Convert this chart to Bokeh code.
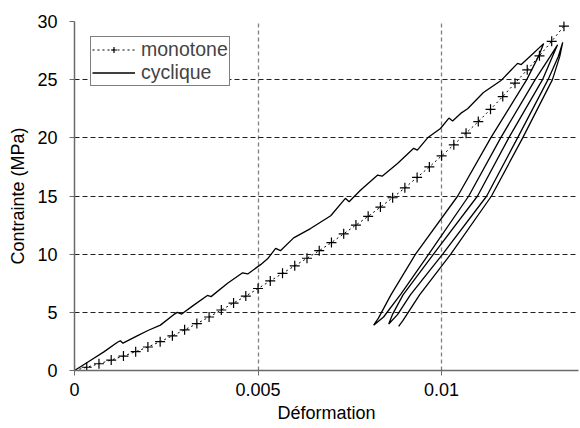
from bokeh.plotting import figure
from bokeh.models import Legend, LegendItem, FixedTicker, Range1d, CustomJSTickFormatter
from bokeh.embed import file_html
from bokeh.resources import INLINE

# ---- data ----
x_ticks = [0, 0.005, 0.01]
y_ticks = [0, 5, 10, 15, 20, 25, 30]

mono_x = [i / 3000 for i in range(41)]
mono_y = [0, 0.28, 0.58, 0.9, 1.24, 1.62, 2.02, 2.48, 2.98, 3.5, 4.03, 4.6, 5.2, 5.8, 6.4,
          7.05, 7.7, 8.35, 9.0, 9.65, 10.3, 11.0, 11.75, 12.5, 13.25, 14.05, 14.85, 15.7,
          16.6, 17.5, 18.45, 19.4, 20.4, 21.4, 22.45, 23.55, 24.7, 25.85, 27.05, 28.3, 29.6]

load_x = [0, 0.0004, 0.0008, 0.00118, 0.00125, 0.00132, 0.00172, 0.0020, 0.00234, 0.0027,
          0.0028, 0.00292, 0.00324, 0.00362, 0.00372, 0.00417, 0.00458, 0.00472, 0.00507,
          0.00526, 0.00548, 0.00561, 0.00597, 0.00643, 0.00698, 0.00738, 0.00748, 0.00779,
          0.00826, 0.00838, 0.0088, 0.00924, 0.00934, 0.00962, 0.00997, 0.0102, 0.0103,
          0.01052, 0.01071, 0.01114, 0.01161, 0.01207, 0.01217, 0.01251, 0.01278]
load_y = [0, 0.8, 1.6, 2.45, 2.55, 2.35, 3.0, 3.44, 3.9, 4.8, 5.0, 4.85, 5.6, 6.45, 6.35,
          7.5, 8.4, 8.3, 9.1, 9.6, 10.5, 10.3, 11.4, 12.2, 13.3, 14.8, 14.5, 15.5, 16.8,
          16.7, 17.8, 19.1, 18.95, 20.0, 20.8, 21.7, 21.45, 22.1, 22.5, 23.9, 24.9, 26.4,
          26.3, 27.3, 28.1]

unload1_x = [0.01278, 0.01264, 0.01232, 0.01134, 0.01044, 0.00929, 0.00862, 0.00828, 0.00815]
unload1_y = [28.1, 27.0, 25.0, 20.0, 15.0, 10.0, 6.5, 4.5, 3.9]
reload1_x = [0.00815, 0.00842, 0.0089, 0.00965, 0.01074, 0.01161, 0.01255, 0.01296, 0.01316]
reload1_y = [3.9, 4.6, 6.6, 10.0, 15.0, 20.0, 25.0, 27.0, 28.0]
unload2_x = [0.01316, 0.01302, 0.01275, 0.01183, 0.01098, 0.00978, 0.00895, 0.00866, 0.00856]
unload2_y = [28.0, 27.0, 25.0, 20.0, 15.0, 10.0, 6.5, 4.8, 4.0]
reload2_x = [0.00856, 0.0088, 0.00915, 0.01003, 0.01123, 0.01207, 0.0129, 0.01318, 0.0133]
reload2_y = [4.0, 4.8, 6.5, 10.0, 15.0, 20.0, 25.0, 27.0, 28.2]
unload3_x = [0.0133, 0.01322, 0.01302, 0.01221, 0.01136, 0.01025, 0.0094, 0.00895, 0.00883]
unload3_y = [28.2, 27.0, 25.0, 20.0, 15.0, 10.0, 6.5, 4.3, 3.8]

cyc_x = load_x + unload1_x + reload1_x + unload2_x + reload2_x + unload3_x
cyc_y = load_y + unload1_y + reload1_y + unload2_y + reload2_y + unload3_y

FONT = "Liberation Sans"

p = figure(width=580, height=426, x_range=Range1d(0, 0.01373), y_range=Range1d(0, 30),
           output_backend="svg", toolbar_location=None,
           min_border_left=74, min_border_top=21, min_border_right=2, min_border_bottom=56)
p.outline_line_color = None
p.background_fill_color = "white"
p.border_fill_color = "white"

# grids
p.xgrid.ticker = FixedTicker(ticks=x_ticks)
p.ygrid.ticker = FixedTicker(ticks=y_ticks)
p.xgrid.grid_line_color = "#808080"
p.xgrid.grid_line_dash = "4 3"
p.xgrid.grid_line_width = 1.3
p.ygrid.grid_line_color = "#202020"
p.ygrid.grid_line_dash = "5 3"
p.ygrid.grid_line_width = 1

# axes
for ax in (p.xaxis[0], p.yaxis[0]):
    ax.axis_line_color = "#6a6a6a"
    ax.axis_line_width = 1.5
    ax.major_tick_line_color = "#6a6a6a"
    ax.major_tick_out = 5
    ax.major_tick_in = 0
    ax.minor_tick_line_color = None
    ax.major_label_text_font = FONT
    ax.major_label_text_font_size = "18px"
    ax.major_label_text_color = "black"
    ax.axis_label_text_font = FONT
    ax.axis_label_text_font_size = "18px"
    ax.axis_label_text_font_style = "normal"
    ax.axis_label_text_color = "black"

p.xaxis.ticker = FixedTicker(ticks=x_ticks)
p.yaxis.ticker = FixedTicker(ticks=y_ticks)
p.xaxis.formatter = CustomJSTickFormatter(code="return tick.toString();")
p.yaxis.formatter = CustomJSTickFormatter(code="return tick.toString();")
p.xaxis.axis_label = "Déformation"
p.yaxis.axis_label = "Contrainte (MPa)"
p.xaxis.major_label_standoff = 7
p.xaxis.axis_label_standoff = 4
p.yaxis.major_label_standoff = 12
p.yaxis.axis_label_standoff = 6

# series
mono_line = p.line(mono_x, mono_y, line_color="black", line_width=1, line_dash="2 3")
mono_pts = p.scatter(mono_x, mono_y, marker="cross", size=10, line_color="black", line_width=1.2)
cyc_line = p.line(cyc_x, cyc_y, line_color="black", line_width=1.3)

legend = Legend(items=[LegendItem(label="monotone", renderers=[mono_line, mono_pts]),
                       LegendItem(label="cyclique", renderers=[cyc_line])],
                location=(16, 284))
legend.border_line_color = "black"
legend.border_line_width = 1
legend.background_fill_color = "white"
legend.background_fill_alpha = 1
legend.label_text_font = FONT
legend.label_text_font_size = "19.5px"
legend.glyph_width = 43
legend.glyph_height = 15
legend.label_height = 15
legend.label_standoff = 6
legend.spacing = -3
legend.padding = 1
legend.margin = 0
p.add_layout(legend)

open("out.html", "w").write(file_html(p, INLINE))
